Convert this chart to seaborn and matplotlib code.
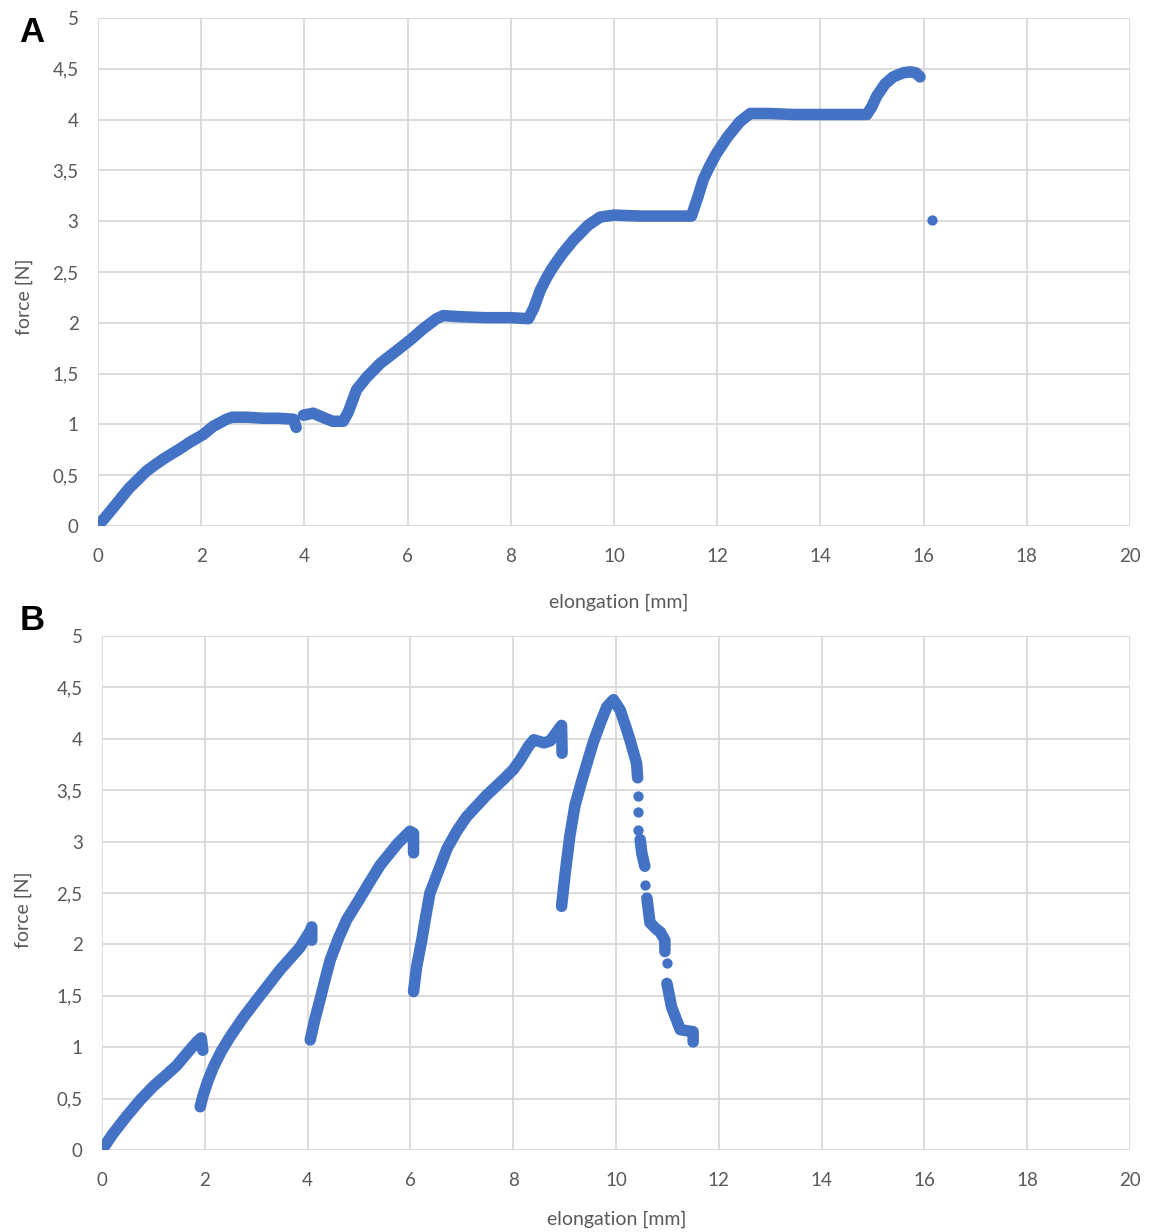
import matplotlib
matplotlib.use('Agg')
import matplotlib.pyplot as plt
import numpy as np
import pandas as pd
import seaborn as sns

# panel A: force vs elongation, continuous runs of the trace (seg id per point)
a_x = [0, 0.15, 0.36, 0.6, 0.94, 1.1, 1.27, 1.59, 1.8, 2.04, 2.23, 2.49, 2.6, 2.9, 3.2, 3.5, 3.79, 3.84,
       3.98, 4.17, 4.4, 4.55, 4.75, 4.85, 5.01, 5.2, 5.47, 5.75, 6.05, 6.3, 6.56, 6.69, 7.0, 7.5, 8.0, 8.34,
       8.45, 8.57, 8.7, 8.82, 9.0, 9.21, 9.5, 9.73, 10.0, 10.5, 11.0, 11.5,
       11.62, 11.73, 11.86, 11.99, 12.2, 12.44, 12.64, 13.0, 13.5, 14.0, 14.5, 14.9,
       15.0, 15.09, 15.25, 15.41, 15.6, 15.74, 15.85, 15.93]
a_y = [0, 0.09, 0.22, 0.37, 0.54, 0.60, 0.66, 0.76, 0.83, 0.90, 0.98, 1.05, 1.07, 1.07, 1.06, 1.06, 1.05, 0.97,
       1.09, 1.11, 1.06, 1.03, 1.03, 1.12, 1.34, 1.46, 1.60, 1.71, 1.83, 1.94, 2.04, 2.07, 2.06, 2.05, 2.05, 2.04,
       2.15, 2.32, 2.45, 2.55, 2.68, 2.81, 2.96, 3.04, 3.06, 3.05, 3.05, 3.05,
       3.23, 3.41, 3.55, 3.67, 3.83, 3.98, 4.06, 4.06, 4.05, 4.05, 4.05, 4.05,
       4.13, 4.23, 4.35, 4.42, 4.46, 4.47, 4.46, 4.42]
a_seg = [1] * 18 + [2] * 50
a_dot_x = [16.16]
a_dot_y = [3.01]

# panel B
b_x = [0, 0.2, 0.48, 0.75, 1.0, 1.25, 1.45, 1.65, 1.84, 1.93, 1.96,
       1.91, 1.96, 2.05, 2.17, 2.32, 2.49, 2.75, 3.01, 3.46, 3.85, 4.05, 4.08, 4.08,
       4.05, 4.14, 4.24, 4.34, 4.44, 4.6, 4.76, 5.02, 5.2, 5.41, 5.75, 5.99, 6.06, 6.06,
       6.06, 6.12, 6.22, 6.3, 6.38, 6.58, 6.71, 6.9, 7.09, 7.48, 7.8, 8.0, 8.13, 8.3, 8.4, 8.6, 8.72, 8.94, 8.95,
       8.94, 9.01, 9.1, 9.2, 9.35, 9.56, 9.7, 9.82, 9.95, 10.08, 10.2, 10.27, 10.40, 10.42,
       10.47, 10.50, 10.56,
       10.60, 10.66, 10.78, 10.86, 10.95, 10.95,
       10.99, 11.08, 11.25, 11.50, 11.50]
b_y = [0, 0.15, 0.33, 0.49, 0.62, 0.73, 0.82, 0.94, 1.05, 1.09, 0.97,
       0.42, 0.52, 0.66, 0.81, 0.96, 1.10, 1.29, 1.46, 1.75, 1.97, 2.13, 2.17, 2.04,
       1.07, 1.27, 1.46, 1.66, 1.85, 2.06, 2.24, 2.45, 2.60, 2.77, 2.98, 3.10, 3.08, 2.89,
       1.54, 1.78, 2.04, 2.28, 2.50, 2.76, 2.93, 3.10, 3.24, 3.45, 3.60, 3.70, 3.79, 3.93, 3.99, 3.96, 3.98, 4.13, 3.86,
       2.37, 2.69, 3.05, 3.35, 3.62, 3.97, 4.16, 4.31, 4.38, 4.28, 4.10, 3.99, 3.76, 3.62,
       3.02, 2.89, 2.76,
       2.45, 2.21, 2.15, 2.12, 2.04, 1.93,
       1.62, 1.39, 1.17, 1.15, 1.05]
b_seg = [1] * 11 + [2] * 13 + [3] * 14 + [4] * 19 + [5] * 14 + [6] * 3 + [7] * 6 + [8] * 5
b_dot_x = [10.42, 10.42, 10.43, 10.56, 10.99]
b_dot_y = [3.44, 3.29, 3.11, 2.58, 1.82]

x_ticks = list(range(0, 21, 2))
y_ticks = [0, 0.5, 1, 1.5, 2, 2.5, 3, 3.5, 4, 4.5, 5]
y_labels = ['0', '0,5', '1', '1,5', '2', '2,5', '3', '3,5', '4', '4,5', '5']

blue = '#4472C4'
grey_txt = '#595959'

sns.set_style('whitegrid', {'grid.color': '#d9d9d9'})
plt.rcParams['font.family'] = ['Lato', 'DejaVu Sans']

fig = plt.figure(figsize=(11.57, 12.32), dpi=100)
ax_a = fig.add_axes([0.0847, 0.5731, 0.8920, 0.4123])
ax_b = fig.add_axes([0.0882, 0.0666, 0.8885, 0.4172])


def draw_panel(ax, xs, ys, segs, dx, dy, ylab_pos, xlab_pos):
    df = pd.DataFrame({'x': xs, 'y': ys, 'seg': segs})
    sns.lineplot(data=df, x='x', y='y', units='seg', estimator=None, sort=False,
                 color=blue, linewidth=8.3, solid_capstyle='round',
                 solid_joinstyle='round', ax=ax)
    sns.scatterplot(x=dx, y=dy, color=blue, s=55, linewidth=0, ax=ax)
    ax.set_xlim(0, 20)
    ax.set_ylim(0, 5)
    ax.set_xticks(x_ticks)
    ax.set_yticks(y_ticks)
    ax.set_yticklabels(y_labels)
    ax.grid(True, color='#d9d9d9', linewidth=1.3)
    for s in ax.spines.values():
        s.set_visible(False)
    ax.tick_params(axis='both', length=0, labelsize=13.5, colors=grey_txt)
    ax.tick_params(axis='x', pad=16)
    ax.tick_params(axis='y', pad=14)
    ax.set_xlabel('elongation [mm]', fontsize=14, color=grey_txt)
    ax.set_ylabel('force [N]', fontsize=14, color=grey_txt)
    ax.yaxis.set_label_coords(*ylab_pos)
    ax.xaxis.set_label_coords(*xlab_pos)


draw_panel(ax_a, a_x, a_y, a_seg, a_dot_x, a_dot_y, (-0.063, 0.451), (0.505, -0.134))
draw_panel(ax_b, b_x, b_y, b_seg, b_dot_x, b_dot_y, (-0.068, 0.467), (0.501, -0.119))

fig.text(32 / 1157, 1 - 32 / 1232, 'A', fontsize=25, fontweight='bold',
         family='Liberation Sans', ha='center', va='center', color='black')
fig.text(32 / 1157, 1 - 620 / 1232, 'B', fontsize=25, fontweight='bold',
         family='Liberation Sans', ha='center', va='center', color='black')

fig.savefig('out.png', dpi=100)
